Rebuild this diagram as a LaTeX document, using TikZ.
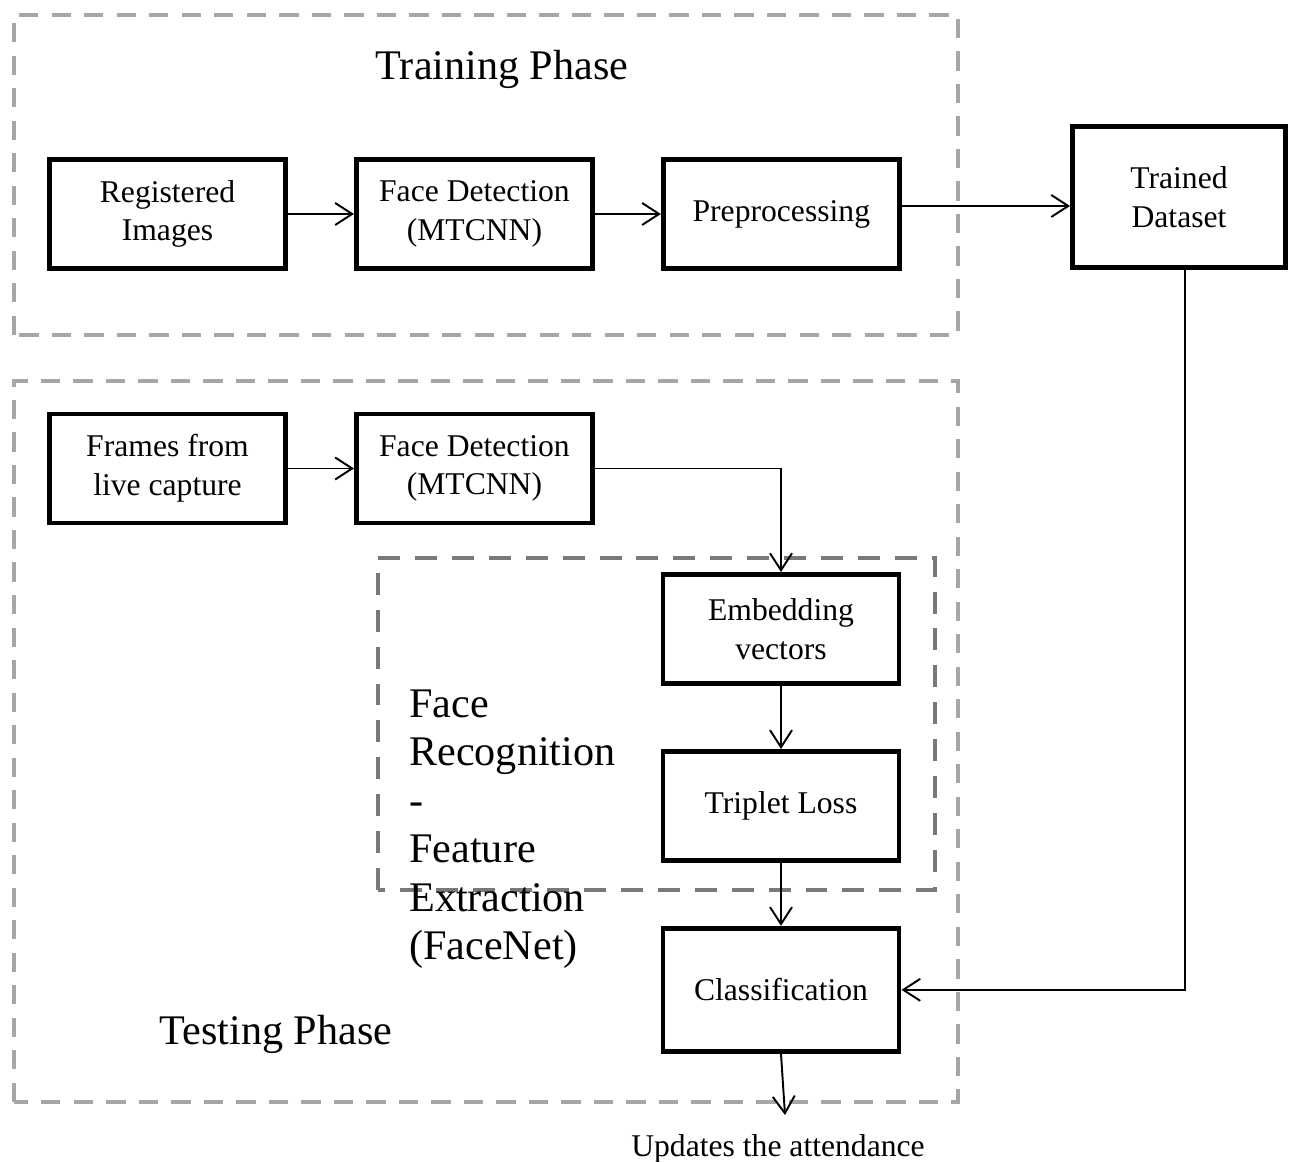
\documentclass[tikz,border=0pt]{standalone}
\usepackage{fontspec}
\setmainfont{Liberation Serif}
\usetikzlibrary{arrows.meta}
\usetikzlibrary{positioning}

\begin{document}
\begin{tikzpicture}[>={Straight Barb[length=3.4mm,width=4.4mm]}, line width=1.1pt,
                block/.style={draw, line width=2.8pt, minimum width=4.72cm, minimum height=2.18cm,
                              align=center, font=\fontsize{18}{22}\selectfont},
                phase/.style={draw=gray!70, line width=2.3pt, dash pattern=on 11pt off 7.5pt},
                inner phase/.style={draw=gray!95!black, line width=2.8pt, dash pattern=on 12.5pt off 8.5pt},
                big label/.style={font=\fontsize{24}{27.6}\selectfont}]

      \useasboundingbox (0,0) rectangle (25.8,23.24);

      % phase frames
      \draw[phase] (0.28,16.54) rectangle (19.16,22.94);
      \draw[phase] (0.28,1.2) rectangle (19.16,15.62);
      \draw[inner phase] (7.56,5.44) rectangle (18.7,12.08);

      \node[big label] (train) at (10.04,21.85) {Training Phase};
      \node[big label] (test) at (5.52,2.55) {Testing Phase};
      \node[big label, anchor=west, align=left] (facenet) at (8.05,6.66)
            {Face\\Recognition\\-\\Feature\\Extraction\\(FaceNet)};

      % training row
      \node[block] (reg) at (3.35,18.96) {Registered\\Images};
      \node[block] (fd1) [right=1.32cm of reg] {Face Detection\\(MTCNN)};
      \node[block] (pre) [right=1.32cm of fd1] {Preprocessing};
      \node[block, minimum width=4.26cm, minimum height=2.82cm] (trained) at (23.58,19.3) {Trained\\Dataset};

      % testing row
      \node[block] (frames) at (3.35,13.87) {Frames from\\live capture};
      \node[block] (fd2) [right=1.32cm of frames] {Face Detection\\(MTCNN)};
      \node[block] (emb) at (15.62,10.66) {Embedding\\vectors};
      \node[block] (trip) [below=1.26cm of emb] {Triplet Loss};
      \node[block, minimum height=2.46cm] (cls) [below=1.26cm of trip] {Classification};

      \coordinate (out) at (15.7,0.94);
      \node[font=\fontsize{18}{22}\selectfont] (upd) at (15.56,0.26) {Updates the attendance};

      \draw[->] (reg) -- (fd1);
      \draw[->] (fd1) -- (pre);
      \draw[->] ([yshift=0.16cm]pre.east) -- ([yshift=0.16cm]pre.east -| trained.west);
      \draw[->] (frames) -- (fd2);
      \draw[->] (fd2.east) -| (emb.north);
      \draw[->] (emb) -- (trip);
      \draw[->] (trip) -- (cls);
      \draw[->] ([xshift=0.12cm]trained.south) |- (cls.east);
      \draw[->] (cls.south) -- (out);
  \end{tikzpicture}
\end{document}
